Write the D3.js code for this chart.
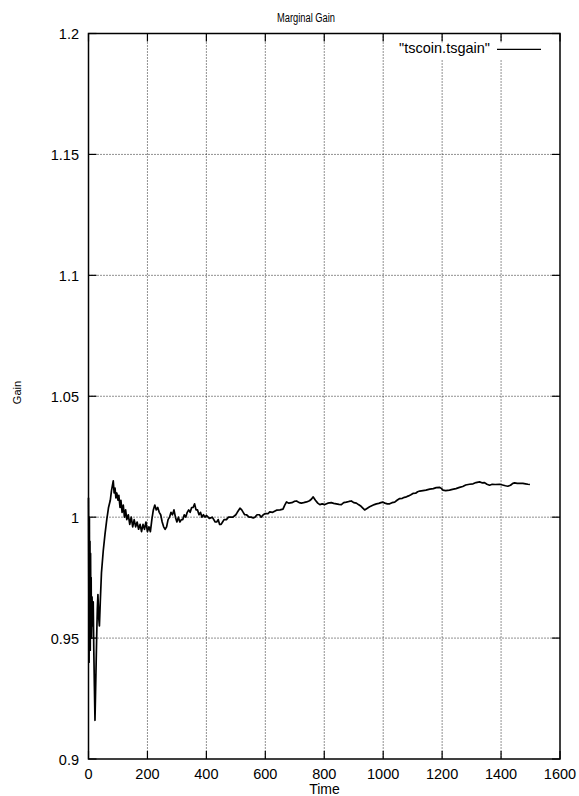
<!DOCTYPE html>
<html>
<head>
<meta charset="utf-8">
<script src="https://cdn.jsdelivr.net/npm/d3@7"></script>
<style>
  body { margin: 0; background: #fff; }
  svg { display: block; font-family: "Liberation Sans", Arial, sans-serif; }
</style>
</head>
<body>
<svg></svg>
<script>
// Width and height of the page
var width = 579;
var height = 796;

// plot box (gnuplot style)
var boxLeft = 88.5, boxRight = 560, boxTop = 33.5, boxBottom = 759;

// tick values
var xTicks = [0, 200, 400, 600, 800, 1000, 1200, 1400, 1600];
var yTicks = [0.9, 0.95, 1.0, 1.05, 1.1, 1.15, 1.2];

// "tscoin.tsgain" series
var time = [0, 1, 2, 3, 4, 5, 6, 7, 8, 9, 10, 12, 14, 16, 18, 20, 22, 24, 26, 28, 30, 32, 35, 37, 40, 44, 50, 56, 62, 68, 74, 78, 84,
  87, 90, 93, 96, 100, 103, 107, 110, 114, 118, 122, 126, 130, 135, 140, 145, 150, 155, 160, 165, 170, 175, 180, 185, 190, 195, 200,
  205, 210, 215, 220, 225, 230, 235, 240, 245, 250, 255, 260, 265, 270, 275, 280, 285, 290, 295, 300, 305, 310, 315, 320, 325,
  330, 335, 340, 345, 350, 355, 360, 365, 370, 375, 380, 385, 390, 395, 400, 410, 420, 430, 435, 440, 445, 450, 455, 460, 468,
  475, 480, 490, 500, 505, 514, 520, 525, 530, 536, 545, 552, 559, 565, 572, 580, 586, 593, 600, 610, 615, 625, 638, 650, 660,
  666, 672, 680, 690, 698, 706, 715, 722, 730, 740, 750, 757, 762, 770, 778, 785, 793, 802, 812, 824, 832, 841, 850, 858, 866,
  875, 884, 892, 900, 909, 916, 925, 937, 945, 954, 963, 970, 977, 985, 992, 999, 1006, 1014, 1022, 1030, 1039, 1047, 1056,
  1065, 1072, 1079, 1086, 1094, 1101, 1110, 1117, 1124, 1135, 1145, 1158, 1170, 1180, 1192, 1198, 1203, 1212, 1225, 1235,
  1247, 1259, 1270, 1280, 1293, 1305, 1315, 1327, 1335, 1344, 1352, 1361, 1370, 1380, 1395, 1405, 1415, 1423, 1432, 1440,
  1446, 1455, 1465, 1474, 1483, 1491, 1498];
var gain = [1.008, 0.975, 0.940, 1.000, 0.950, 0.990, 0.945, 0.985, 0.960, 0.975, 0.950, 0.967, 0.955, 0.965, 0.945, 0.930, 0.916, 0.928, 0.940, 0.952, 0.962, 0.968, 0.958, 0.955, 0.965, 0.977, 0.986, 0.993, 0.999, 1.004, 1.007, 1.011, 1.015,
  1.010, 1.012, 1.008, 1.010, 1.007, 1.009, 1.004, 1.007, 1.002, 1.005, 1.000, 1.003, 0.999, 1.001, 0.997, 1.000, 0.996, 0.999, 0.996, 0.998, 0.995, 0.997, 0.994, 0.997, 0.995, 0.998, 0.994,
  0.996, 0.994, 0.999, 1.003, 1.005, 1.003, 1.004, 1.002, 1.001, 0.998, 0.996, 0.995, 0.996, 0.999, 1.000, 1.002, 1.001, 1.003, 1.000, 0.998, 1.000, 0.998, 0.999, 0.999, 1.001,
  1.000, 1.002, 1.003, 1.002, 1.004, 1.004, 1.0055, 1.003, 1.003, 1.001, 1.002, 1.000, 1.001, 1.000, 1.0007, 0.9995, 1.000, 0.998, 0.998, 0.999, 0.997, 0.997, 0.998, 0.999, 0.999,
  1.000, 1.000, 1.000, 1.001, 1.002, 1.0037, 1.003, 1.002, 1.001, 1.001, 1.000, 1.000, 0.9997, 1.000, 1.001, 1.001, 1.000, 1.001, 1.0015, 1.0015, 1.0022, 1.002, 1.0029, 1.003, 1.0033,
  1.005, 1.0063, 1.0058, 1.006, 1.0065, 1.0067, 1.006, 1.0058, 1.006, 1.0063, 1.0068, 1.0075, 1.0084, 1.007, 1.0058, 1.0052, 1.0055, 1.0052, 1.0058, 1.006, 1.0057, 1.0055, 1.0053, 1.0052, 1.006,
  1.0062, 1.0065, 1.0067, 1.006, 1.0058, 1.0052, 1.0045, 1.003, 1.0036, 1.0043, 1.0048, 1.0052, 1.0055, 1.0057, 1.006, 1.0062, 1.0058, 1.0055, 1.0055, 1.006, 1.0062, 1.007, 1.0077,
  1.0078, 1.0082, 1.0084, 1.0088, 1.0093, 1.0098, 1.0099, 1.0105, 1.0108, 1.011, 1.0112, 1.0116, 1.0118, 1.0122, 1.0123, 1.0118, 1.0112, 1.011, 1.0112, 1.0115,
  1.0118, 1.0123, 1.0127, 1.0133, 1.0136, 1.0138, 1.0143, 1.0146, 1.0142, 1.0143, 1.0136, 1.0132, 1.0136, 1.0135, 1.0136, 1.0133, 1.013, 1.0128, 1.0132, 1.014,
  1.0142, 1.014, 1.014, 1.014, 1.0138, 1.0136, 1.0135];

var x = d3.scaleLinear().domain([0, 1600]).range([boxLeft, boxRight]);
var y = d3.scaleLinear().domain([0.9, 1.2]).range([boxBottom, boxTop]);

var svg = d3.select("svg")
    .attr("width", width)
    .attr("height", height);

// dotted grid
svg.append("g").selectAll("line")
    .data(xTicks.slice(1, -1))
    .enter().append("line")
    .attr("x1", function(d) { return x(d); })
    .attr("x2", function(d) { return x(d); })
    .attr("y1", boxTop)
    .attr("y2", boxBottom)
    .attr("stroke", "#222")
    .attr("stroke-dasharray", "1,2");

svg.append("g").selectAll("line")
    .data(yTicks.slice(1, -1))
    .enter().append("line")
    .attr("x1", boxLeft)
    .attr("x2", boxRight)
    .attr("y1", function(d) { return y(d); })
    .attr("y2", function(d) { return y(d); })
    .attr("stroke", "#222")
    .attr("stroke-dasharray", "1,2");

// ticks on all four sides, pointing in
var tickLen = 8;
var ticks = svg.append("g").attr("stroke", "#000").attr("stroke-width", 1.2);
xTicks.forEach(function(d) {
    ticks.append("line").attr("x1", x(d)).attr("x2", x(d)).attr("y1", boxBottom).attr("y2", boxBottom - tickLen);
    ticks.append("line").attr("x1", x(d)).attr("x2", x(d)).attr("y1", boxTop).attr("y2", boxTop + tickLen);
});
yTicks.forEach(function(d) {
    ticks.append("line").attr("x1", boxLeft).attr("x2", boxLeft + tickLen).attr("y1", y(d)).attr("y2", y(d));
    ticks.append("line").attr("x1", boxRight).attr("x2", boxRight - tickLen).attr("y1", y(d)).attr("y2", y(d));
});

// tick labels
svg.append("g").selectAll("text")
    .data(xTicks)
    .enter().append("text")
    .attr("x", function(d) { return x(d); })
    .attr("y", 779)
    .attr("text-anchor", "middle")
    .style("font-size", "14.5px")
    .text(function(d) { return d; });

svg.append("g").selectAll("text")
    .data(yTicks)
    .enter().append("text")
    .attr("x", 79)
    .attr("y", function(d) { return y(d) + 5.5; })
    .attr("text-anchor", "end")
    .style("font-size", "14.5px")
    .text(function(d) { return String(+d.toFixed(2)); });

// axis titles
svg.append("text")
    .attr("x", 306)
    .attr("y", 22)
    .attr("text-anchor", "middle")
    .attr("textLength", 58)
    .attr("lengthAdjust", "spacingAndGlyphs")
    .style("font-size", "12px")
    .text("Marginal Gain");

svg.append("text")
    .attr("x", 324.5)
    .attr("y", 794)
    .attr("text-anchor", "middle")
    .style("font-size", "14px")
    .text("Time");

svg.append("text")
    .attr("transform", "translate(20.7,392.5) rotate(-90)")
    .attr("text-anchor", "middle")
    .style("font-size", "11px")
    .text("Gain");

// the series
var line = d3.line()
    .x(function(d) { return x(d[0]); })
    .y(function(d) { return y(d[1]); });

svg.append("path")
    .datum(time.map(function(t, i) { return [t, gain[i]]; }))
    .attr("d", line)
    .attr("fill", "none")
    .attr("stroke", "#000")
    .attr("stroke-width", 1.7)
    .attr("stroke-linejoin", "round");

// key, blanks the grid behind it
var key = svg.append("g");
key.append("rect")
    .attr("x", 386).attr("y", boxTop + 9)
    .attr("width", 162).attr("height", 17)
    .attr("fill", "#fff");
key.append("text")
    .attr("x", 490)
    .attr("y", 53)
    .attr("text-anchor", "end")
    .style("font-size", "14.5px")
    .text("\"tscoin.tsgain\"");
key.append("line")
    .attr("x1", 497).attr("x2", 541)
    .attr("y1", 49.3).attr("y2", 49.3)
    .attr("stroke", "#000")
    .attr("stroke-width", 1.2);

// plot border
svg.append("rect")
    .attr("x", boxLeft).attr("y", boxTop)
    .attr("width", boxRight - boxLeft).attr("height", boxBottom - boxTop)
    .attr("fill", "none")
    .attr("stroke", "#000")
    .attr("stroke-width", 1.5);
</script>
</body>
</html>
